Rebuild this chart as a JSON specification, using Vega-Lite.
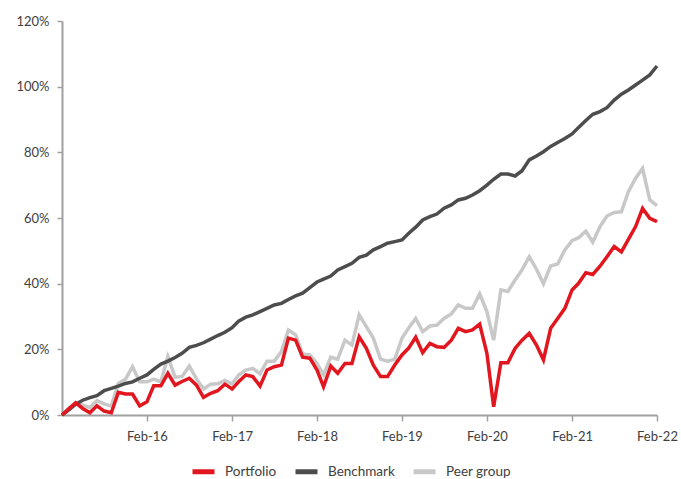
{
  "$schema": "https://vega.github.io/schema/vega-lite/v6.json",
  "width": 595,
  "height": 394,
  "autosize": {"type": "none"},
  "padding": {"left": 62, "top": 21, "right": 24, "bottom": 64},
  "background": "white",
  "config": {
    "view": {"stroke": null},
    "font": "Lato"
  },
  "data": {
    "values": [
      {"date":"2015-02-01","series":"Peer group","value":0},
      {"date":"2015-03-01","series":"Peer group","value":2.0},
      {"date":"2015-04-01","series":"Peer group","value":3.7},
      {"date":"2015-05-01","series":"Peer group","value":3.0},
      {"date":"2015-06-01","series":"Peer group","value":2.3},
      {"date":"2015-07-01","series":"Peer group","value":4.4},
      {"date":"2015-08-01","series":"Peer group","value":3.4},
      {"date":"2015-09-01","series":"Peer group","value":2.7},
      {"date":"2015-10-01","series":"Peer group","value":9.6},
      {"date":"2015-11-01","series":"Peer group","value":10.9},
      {"date":"2015-12-01","series":"Peer group","value":14.7},
      {"date":"2016-01-01","series":"Peer group","value":10.1},
      {"date":"2016-02-01","series":"Peer group","value":10.1},
      {"date":"2016-03-01","series":"Peer group","value":10.9},
      {"date":"2016-04-01","series":"Peer group","value":10.1},
      {"date":"2016-05-01","series":"Peer group","value":17.8},
      {"date":"2016-06-01","series":"Peer group","value":11.5},
      {"date":"2016-07-01","series":"Peer group","value":11.7},
      {"date":"2016-08-01","series":"Peer group","value":14.9},
      {"date":"2016-09-01","series":"Peer group","value":11.0},
      {"date":"2016-10-01","series":"Peer group","value":7.9},
      {"date":"2016-11-01","series":"Peer group","value":9.4},
      {"date":"2016-12-01","series":"Peer group","value":9.5},
      {"date":"2017-01-01","series":"Peer group","value":10.5},
      {"date":"2017-02-01","series":"Peer group","value":9.5},
      {"date":"2017-03-01","series":"Peer group","value":12.2},
      {"date":"2017-04-01","series":"Peer group","value":13.7},
      {"date":"2017-05-01","series":"Peer group","value":14.2},
      {"date":"2017-06-01","series":"Peer group","value":12.5},
      {"date":"2017-07-01","series":"Peer group","value":16.4},
      {"date":"2017-08-01","series":"Peer group","value":16.4},
      {"date":"2017-09-01","series":"Peer group","value":19.3},
      {"date":"2017-10-01","series":"Peer group","value":25.9},
      {"date":"2017-11-01","series":"Peer group","value":24.4},
      {"date":"2017-12-01","series":"Peer group","value":18.6},
      {"date":"2018-01-01","series":"Peer group","value":18.3},
      {"date":"2018-02-01","series":"Peer group","value":15.7},
      {"date":"2018-03-01","series":"Peer group","value":12.2},
      {"date":"2018-04-01","series":"Peer group","value":17.6},
      {"date":"2018-05-01","series":"Peer group","value":17.0},
      {"date":"2018-06-01","series":"Peer group","value":22.8},
      {"date":"2018-07-01","series":"Peer group","value":21.3},
      {"date":"2018-08-01","series":"Peer group","value":30.5},
      {"date":"2018-09-01","series":"Peer group","value":26.9},
      {"date":"2018-10-01","series":"Peer group","value":23.4},
      {"date":"2018-11-01","series":"Peer group","value":17.0},
      {"date":"2018-12-01","series":"Peer group","value":16.4},
      {"date":"2019-01-01","series":"Peer group","value":17.0},
      {"date":"2019-02-01","series":"Peer group","value":23.4},
      {"date":"2019-03-01","series":"Peer group","value":26.4},
      {"date":"2019-04-01","series":"Peer group","value":29.4},
      {"date":"2019-05-01","series":"Peer group","value":25.4},
      {"date":"2019-06-01","series":"Peer group","value":27.1},
      {"date":"2019-07-01","series":"Peer group","value":27.4},
      {"date":"2019-08-01","series":"Peer group","value":29.4},
      {"date":"2019-09-01","series":"Peer group","value":30.8},
      {"date":"2019-10-01","series":"Peer group","value":33.5},
      {"date":"2019-11-01","series":"Peer group","value":32.5},
      {"date":"2019-12-01","series":"Peer group","value":32.5},
      {"date":"2020-01-01","series":"Peer group","value":36.9},
      {"date":"2020-02-01","series":"Peer group","value":31.5},
      {"date":"2020-03-01","series":"Peer group","value":22.8},
      {"date":"2020-04-01","series":"Peer group","value":38.1},
      {"date":"2020-05-01","series":"Peer group","value":37.6},
      {"date":"2020-06-01","series":"Peer group","value":41.1},
      {"date":"2020-07-01","series":"Peer group","value":44.2},
      {"date":"2020-08-01","series":"Peer group","value":48.2},
      {"date":"2020-09-01","series":"Peer group","value":44.4},
      {"date":"2020-10-01","series":"Peer group","value":40.0},
      {"date":"2020-11-01","series":"Peer group","value":45.4},
      {"date":"2020-12-01","series":"Peer group","value":46.0},
      {"date":"2021-01-01","series":"Peer group","value":50.3},
      {"date":"2021-02-01","series":"Peer group","value":53.1},
      {"date":"2021-03-01","series":"Peer group","value":54.0},
      {"date":"2021-04-01","series":"Peer group","value":56.0},
      {"date":"2021-05-01","series":"Peer group","value":52.6},
      {"date":"2021-06-01","series":"Peer group","value":57.4},
      {"date":"2021-07-01","series":"Peer group","value":60.6},
      {"date":"2021-08-01","series":"Peer group","value":61.7},
      {"date":"2021-09-01","series":"Peer group","value":61.9},
      {"date":"2021-10-01","series":"Peer group","value":68.0},
      {"date":"2021-11-01","series":"Peer group","value":72.1},
      {"date":"2021-12-01","series":"Peer group","value":75.1},
      {"date":"2022-01-01","series":"Peer group","value":65.5},
      {"date":"2022-02-01","series":"Peer group","value":63.8},

      {"date":"2015-02-01","series":"Benchmark","value":0},
      {"date":"2015-03-01","series":"Benchmark","value":1.5},
      {"date":"2015-04-01","series":"Benchmark","value":3.3},
      {"date":"2015-05-01","series":"Benchmark","value":4.5},
      {"date":"2015-06-01","series":"Benchmark","value":5.3},
      {"date":"2015-07-01","series":"Benchmark","value":5.9},
      {"date":"2015-08-01","series":"Benchmark","value":7.4},
      {"date":"2015-09-01","series":"Benchmark","value":8.1},
      {"date":"2015-10-01","series":"Benchmark","value":8.8},
      {"date":"2015-11-01","series":"Benchmark","value":9.6},
      {"date":"2015-12-01","series":"Benchmark","value":10.1},
      {"date":"2016-01-01","series":"Benchmark","value":11.2},
      {"date":"2016-02-01","series":"Benchmark","value":12.2},
      {"date":"2016-03-01","series":"Benchmark","value":13.9},
      {"date":"2016-04-01","series":"Benchmark","value":15.5},
      {"date":"2016-05-01","series":"Benchmark","value":16.4},
      {"date":"2016-06-01","series":"Benchmark","value":17.5},
      {"date":"2016-07-01","series":"Benchmark","value":18.8},
      {"date":"2016-08-01","series":"Benchmark","value":20.6},
      {"date":"2016-09-01","series":"Benchmark","value":21.2},
      {"date":"2016-10-01","series":"Benchmark","value":22.0},
      {"date":"2016-11-01","series":"Benchmark","value":23.1},
      {"date":"2016-12-01","series":"Benchmark","value":24.2},
      {"date":"2017-01-01","series":"Benchmark","value":25.2},
      {"date":"2017-02-01","series":"Benchmark","value":26.6},
      {"date":"2017-03-01","series":"Benchmark","value":28.6},
      {"date":"2017-04-01","series":"Benchmark","value":29.8},
      {"date":"2017-05-01","series":"Benchmark","value":30.5},
      {"date":"2017-06-01","series":"Benchmark","value":31.5},
      {"date":"2017-07-01","series":"Benchmark","value":32.5},
      {"date":"2017-08-01","series":"Benchmark","value":33.5},
      {"date":"2017-09-01","series":"Benchmark","value":34.0},
      {"date":"2017-10-01","series":"Benchmark","value":35.2},
      {"date":"2017-11-01","series":"Benchmark","value":36.3},
      {"date":"2017-12-01","series":"Benchmark","value":37.1},
      {"date":"2018-01-01","series":"Benchmark","value":38.8},
      {"date":"2018-02-01","series":"Benchmark","value":40.5},
      {"date":"2018-03-01","series":"Benchmark","value":41.4},
      {"date":"2018-04-01","series":"Benchmark","value":42.3},
      {"date":"2018-05-01","series":"Benchmark","value":44.2},
      {"date":"2018-06-01","series":"Benchmark","value":45.2},
      {"date":"2018-07-01","series":"Benchmark","value":46.2},
      {"date":"2018-08-01","series":"Benchmark","value":48.0},
      {"date":"2018-09-01","series":"Benchmark","value":48.7},
      {"date":"2018-10-01","series":"Benchmark","value":50.3},
      {"date":"2018-11-01","series":"Benchmark","value":51.3},
      {"date":"2018-12-01","series":"Benchmark","value":52.3},
      {"date":"2019-01-01","series":"Benchmark","value":52.8},
      {"date":"2019-02-01","series":"Benchmark","value":53.3},
      {"date":"2019-03-01","series":"Benchmark","value":55.3},
      {"date":"2019-04-01","series":"Benchmark","value":57.2},
      {"date":"2019-05-01","series":"Benchmark","value":59.4},
      {"date":"2019-06-01","series":"Benchmark","value":60.4},
      {"date":"2019-07-01","series":"Benchmark","value":61.2},
      {"date":"2019-08-01","series":"Benchmark","value":63.0},
      {"date":"2019-09-01","series":"Benchmark","value":64.0},
      {"date":"2019-10-01","series":"Benchmark","value":65.5},
      {"date":"2019-11-01","series":"Benchmark","value":66.0},
      {"date":"2019-12-01","series":"Benchmark","value":67.0},
      {"date":"2020-01-01","series":"Benchmark","value":68.3},
      {"date":"2020-02-01","series":"Benchmark","value":70.0},
      {"date":"2020-03-01","series":"Benchmark","value":71.8},
      {"date":"2020-04-01","series":"Benchmark","value":73.4},
      {"date":"2020-05-01","series":"Benchmark","value":73.4},
      {"date":"2020-06-01","series":"Benchmark","value":72.8},
      {"date":"2020-07-01","series":"Benchmark","value":74.4},
      {"date":"2020-08-01","series":"Benchmark","value":77.7},
      {"date":"2020-09-01","series":"Benchmark","value":78.9},
      {"date":"2020-10-01","series":"Benchmark","value":80.2},
      {"date":"2020-11-01","series":"Benchmark","value":81.8},
      {"date":"2020-12-01","series":"Benchmark","value":83.0},
      {"date":"2021-01-01","series":"Benchmark","value":84.2},
      {"date":"2021-02-01","series":"Benchmark","value":85.6},
      {"date":"2021-03-01","series":"Benchmark","value":87.6},
      {"date":"2021-04-01","series":"Benchmark","value":89.7},
      {"date":"2021-05-01","series":"Benchmark","value":91.6},
      {"date":"2021-06-01","series":"Benchmark","value":92.4},
      {"date":"2021-07-01","series":"Benchmark","value":93.6},
      {"date":"2021-08-01","series":"Benchmark","value":95.9},
      {"date":"2021-09-01","series":"Benchmark","value":97.7},
      {"date":"2021-10-01","series":"Benchmark","value":99.0},
      {"date":"2021-11-01","series":"Benchmark","value":100.5},
      {"date":"2021-12-01","series":"Benchmark","value":102.0},
      {"date":"2022-01-01","series":"Benchmark","value":103.6},
      {"date":"2022-02-01","series":"Benchmark","value":106.3},

      {"date":"2015-02-01","series":"Portfolio","value":0},
      {"date":"2015-03-01","series":"Portfolio","value":1.8},
      {"date":"2015-04-01","series":"Portfolio","value":3.7},
      {"date":"2015-05-01","series":"Portfolio","value":2.0},
      {"date":"2015-06-01","series":"Portfolio","value":0.7},
      {"date":"2015-07-01","series":"Portfolio","value":2.8},
      {"date":"2015-08-01","series":"Portfolio","value":1.2},
      {"date":"2015-09-01","series":"Portfolio","value":0.7},
      {"date":"2015-10-01","series":"Portfolio","value":6.9},
      {"date":"2015-11-01","series":"Portfolio","value":6.4},
      {"date":"2015-12-01","series":"Portfolio","value":6.4},
      {"date":"2016-01-01","series":"Portfolio","value":2.8},
      {"date":"2016-02-01","series":"Portfolio","value":4.0},
      {"date":"2016-03-01","series":"Portfolio","value":8.9},
      {"date":"2016-04-01","series":"Portfolio","value":8.9},
      {"date":"2016-05-01","series":"Portfolio","value":12.7},
      {"date":"2016-06-01","series":"Portfolio","value":9.1},
      {"date":"2016-07-01","series":"Portfolio","value":10.2},
      {"date":"2016-08-01","series":"Portfolio","value":11.2},
      {"date":"2016-09-01","series":"Portfolio","value":9.1},
      {"date":"2016-10-01","series":"Portfolio","value":5.4},
      {"date":"2016-11-01","series":"Portfolio","value":6.6},
      {"date":"2016-12-01","series":"Portfolio","value":7.4},
      {"date":"2017-01-01","series":"Portfolio","value":9.4},
      {"date":"2017-02-01","series":"Portfolio","value":7.9},
      {"date":"2017-03-01","series":"Portfolio","value":10.1},
      {"date":"2017-04-01","series":"Portfolio","value":12.2},
      {"date":"2017-05-01","series":"Portfolio","value":11.7},
      {"date":"2017-06-01","series":"Portfolio","value":8.8},
      {"date":"2017-07-01","series":"Portfolio","value":13.7},
      {"date":"2017-08-01","series":"Portfolio","value":14.7},
      {"date":"2017-09-01","series":"Portfolio","value":15.2},
      {"date":"2017-10-01","series":"Portfolio","value":23.4},
      {"date":"2017-11-01","series":"Portfolio","value":22.8},
      {"date":"2017-12-01","series":"Portfolio","value":17.6},
      {"date":"2018-01-01","series":"Portfolio","value":17.3},
      {"date":"2018-02-01","series":"Portfolio","value":13.7},
      {"date":"2018-03-01","series":"Portfolio","value":8.6},
      {"date":"2018-04-01","series":"Portfolio","value":14.9},
      {"date":"2018-05-01","series":"Portfolio","value":12.7},
      {"date":"2018-06-01","series":"Portfolio","value":15.7},
      {"date":"2018-07-01","series":"Portfolio","value":15.7},
      {"date":"2018-08-01","series":"Portfolio","value":23.8},
      {"date":"2018-09-01","series":"Portfolio","value":20.3},
      {"date":"2018-10-01","series":"Portfolio","value":15.2},
      {"date":"2018-11-01","series":"Portfolio","value":11.7},
      {"date":"2018-12-01","series":"Portfolio","value":11.7},
      {"date":"2019-01-01","series":"Portfolio","value":15.2},
      {"date":"2019-02-01","series":"Portfolio","value":18.3},
      {"date":"2019-03-01","series":"Portfolio","value":20.3},
      {"date":"2019-04-01","series":"Portfolio","value":23.7},
      {"date":"2019-05-01","series":"Portfolio","value":19.0},
      {"date":"2019-06-01","series":"Portfolio","value":21.8},
      {"date":"2019-07-01","series":"Portfolio","value":20.8},
      {"date":"2019-08-01","series":"Portfolio","value":20.6},
      {"date":"2019-09-01","series":"Portfolio","value":22.8},
      {"date":"2019-10-01","series":"Portfolio","value":26.4},
      {"date":"2019-11-01","series":"Portfolio","value":25.4},
      {"date":"2019-12-01","series":"Portfolio","value":25.9},
      {"date":"2020-01-01","series":"Portfolio","value":27.7},
      {"date":"2020-02-01","series":"Portfolio","value":18.8},
      {"date":"2020-03-01","series":"Portfolio","value":2.5},
      {"date":"2020-04-01","series":"Portfolio","value":15.9},
      {"date":"2020-05-01","series":"Portfolio","value":15.9},
      {"date":"2020-06-01","series":"Portfolio","value":20.3},
      {"date":"2020-07-01","series":"Portfolio","value":22.8},
      {"date":"2020-08-01","series":"Portfolio","value":24.9},
      {"date":"2020-09-01","series":"Portfolio","value":21.3},
      {"date":"2020-10-01","series":"Portfolio","value":16.8},
      {"date":"2020-11-01","series":"Portfolio","value":26.4},
      {"date":"2020-12-01","series":"Portfolio","value":29.4},
      {"date":"2021-01-01","series":"Portfolio","value":32.5},
      {"date":"2021-02-01","series":"Portfolio","value":38.1},
      {"date":"2021-03-01","series":"Portfolio","value":40.1},
      {"date":"2021-04-01","series":"Portfolio","value":43.3},
      {"date":"2021-05-01","series":"Portfolio","value":42.8},
      {"date":"2021-06-01","series":"Portfolio","value":45.3},
      {"date":"2021-07-01","series":"Portfolio","value":48.2},
      {"date":"2021-08-01","series":"Portfolio","value":51.3},
      {"date":"2021-09-01","series":"Portfolio","value":49.7},
      {"date":"2021-10-01","series":"Portfolio","value":53.5},
      {"date":"2021-11-01","series":"Portfolio","value":57.4},
      {"date":"2021-12-01","series":"Portfolio","value":62.9},
      {"date":"2022-01-01","series":"Portfolio","value":59.9},
      {"date":"2022-02-01","series":"Portfolio","value":58.9}
    ]
  },
  "mark": {"type": "line", "strokeWidth": 3.5, "strokeJoin": "miter", "strokeCap": "butt"},
  "encoding": {
    "x": {
      "field": "date",
      "type": "temporal",
      "scale": {
        "type": "utc",
        "domain": [
          {"year": 2015, "month": 2, "date": 1, "utc": true},
          {"year": 2022, "month": 2, "date": 1, "utc": true}
        ]
      },
      "axis": {
        "title": null,
        "grid": false,
        "values": [
          {"year": 2016, "month": 2, "date": 1, "utc": true},
          {"year": 2017, "month": 2, "date": 1, "utc": true},
          {"year": 2018, "month": 2, "date": 1, "utc": true},
          {"year": 2019, "month": 2, "date": 1, "utc": true},
          {"year": 2020, "month": 2, "date": 1, "utc": true},
          {"year": 2021, "month": 2, "date": 1, "utc": true},
          {"year": 2022, "month": 2, "date": 1, "utc": true}
        ],
        "labelExpr": "utcFormat(datum.value, '%b-%y')",
        "domainColor": "#A0A0A0",
        "domainWidth": 2,
        "tickColor": "#A0A0A0",
        "tickWidth": 1.5,
        "tickSize": 6,
        "labelPadding": 9,
        "labelFontSize": 13,
        "labelColor": "#404040",
        "labelFont": "Lato",
        "labelFlush": false,
        "labelOverlap": false
      }
    },
    "y": {
      "field": "value",
      "type": "quantitative",
      "scale": {"domain": [0, 120], "nice": false},
      "axis": {
        "title": null,
        "grid": false,
        "values": [0, 20, 40, 60, 80, 100, 120],
        "labelExpr": "datum.value + '%'",
        "domainColor": "#A0A0A0",
        "domainWidth": 2,
        "tickColor": "#A0A0A0",
        "tickWidth": 1.5,
        "tickSize": 5,
        "labelPadding": 8,
        "labelFontSize": 13,
        "labelColor": "#404040",
        "labelFont": "Lato"
      }
    },
    "color": {
      "field": "series",
      "type": "nominal",
      "scale": {
        "domain": ["Portfolio", "Benchmark", "Peer group"],
        "range": ["#E2161F", "#4D4D4D", "#C8C8C8"]
      },
      "legend": {
        "title": null,
        "orient": "none",
        "legendX": 128,
        "legendY": 437,
        "direction": "horizontal",
        "symbolType": "stroke",
        "symbolStrokeWidth": 5,
        "symbolSize": 484,
        "labelFontSize": 13.5,
        "labelColor": "#404040",
        "labelFont": "Lato",
        "labelOffset": 8,
        "columnPadding": 8
      }
    },
    "order": {"field": "date", "type": "temporal"}
  }
}
